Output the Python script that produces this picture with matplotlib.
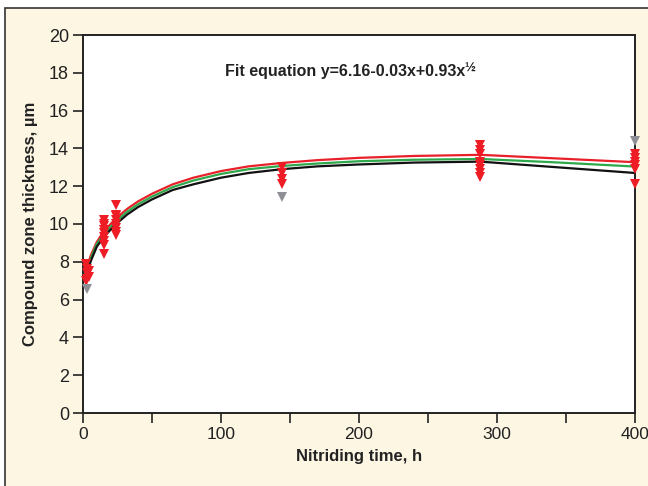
import matplotlib
matplotlib.use("Agg")
import matplotlib.pyplot as plt
from matplotlib.patches import Rectangle

# Fit curves
fit_x = [1, 3, 6, 10, 15, 20, 24, 32, 40, 50, 65, 80, 100, 120, 144, 170, 200, 240, 288, 340, 400]
fit_black = [7.0, 7.5, 8.1, 8.8, 9.3, 9.7, 10.0, 10.5, 10.9, 11.3, 11.8, 12.1, 12.45, 12.7, 12.9,
             13.05, 13.15, 13.25, 13.3, 13.02, 12.7]
fit_green = [7.1, 7.65, 8.25, 8.95, 9.45, 9.85, 10.15, 10.65, 11.05, 11.45, 11.95, 12.3, 12.65, 12.9,
             13.07, 13.2, 13.32, 13.4, 13.44, 13.27, 13.04]
fit_red = [7.2, 7.8, 8.4, 9.05, 9.6, 10.0, 10.3, 10.8, 11.2, 11.6, 12.1, 12.45, 12.8, 13.05, 13.23,
           13.38, 13.5, 13.6, 13.66, 13.48, 13.27]

# Measured points
red_x = [2, 3, 3, 4, 2, 4, 3,
         15, 15, 15, 15, 15, 15, 15, 15, 15,
         24, 24, 24, 24, 24, 24, 24, 24,
         144, 144, 144, 144,
         288, 288, 288, 288, 288, 288, 288, 288,
         400, 400, 400, 400, 400, 400]
red_y = [7.9, 7.6, 7.4, 7.2, 7.0, 7.5, 7.1,
         8.4, 8.9, 9.1, 9.3, 9.5, 9.7, 9.9, 10.0, 10.2,
         9.4, 9.6, 9.8, 10.0, 10.2, 10.4, 10.5, 11.0,
         13.0, 12.7, 12.4, 12.1,
         14.2, 13.9, 13.7, 13.3, 13.1, 12.9, 12.7, 12.5,
         13.7, 13.5, 13.3, 13.1, 12.9, 12.1]
gray_x = [3, 144, 400]
gray_y = [6.55, 11.45, 14.4]

plt.rcParams["font.family"] = ["Liberation Sans", "DejaVu Sans"]

fig = plt.figure(figsize=(6.48, 4.86), dpi=100)
fig.patch.set_facecolor("white")
panel = Rectangle((5 / 648, -0.1), 1.2, 1.1 - 8 / 486, transform=fig.transFigure,
                  facecolor="#fcf6e3", edgecolor="#333333", linewidth=1.2, zorder=-10)
fig.add_artist(panel)

ax = fig.add_axes([83 / 648, 73 / 486, 552 / 648, 378 / 486])
ax.set_facecolor("white")

ax.plot(fit_x, fit_red, color="#e8202a", lw=1.6, zorder=3)
ax.plot(fit_x, fit_green, color="#2ea84a", lw=1.6, zorder=3)
ax.plot(fit_x, fit_black, color="#111111", lw=1.6, zorder=3)
ax.plot(red_x, red_y, "v", color="#ee1c25", markersize=7, markeredgewidth=0, zorder=4, clip_on=False)
ax.plot(gray_x, gray_y, "v", color="#8e8e96", markersize=7, markeredgewidth=0, zorder=4, clip_on=False)

ax.set_xlim(0, 400)
ax.set_ylim(0, 20)
ax.set_xticks(range(0, 401, 50))
ax.set_xticklabels([str(v) if v % 100 == 0 else "" for v in range(0, 401, 50)])
ax.set_yticks(range(0, 21, 2))
ax.tick_params(direction="out", length=7, width=1.2, labelsize=13, color="#222222",
               labelcolor="#222222", pad=3)
ax.tick_params(axis="x", labelsize=12.5)
for s in ax.spines.values():
    s.set_linewidth(1.4)
    s.set_color("#222222")

ax.set_xlabel("Nitriding time, h", fontsize=12, fontweight="bold", color="#222222", labelpad=5)
ax.set_ylabel("Compound zone thickness, µm", fontsize=12, fontweight="bold", color="#222222",
              labelpad=8)

eq = ax.text(190, 18.05, "Fit equation y=6.16-0.03x+0.93x", ha="center", va="center",
             fontsize=11.5, fontweight="bold", color="#222222")
ax.annotate("½", xy=(1, 0.3), xycoords=eq, xytext=(-0.5, 0), textcoords="offset points",
            ha="left", va="bottom", fontsize=9.5, fontweight="bold", color="#222222")

fig.savefig("out.png", dpi=100)
